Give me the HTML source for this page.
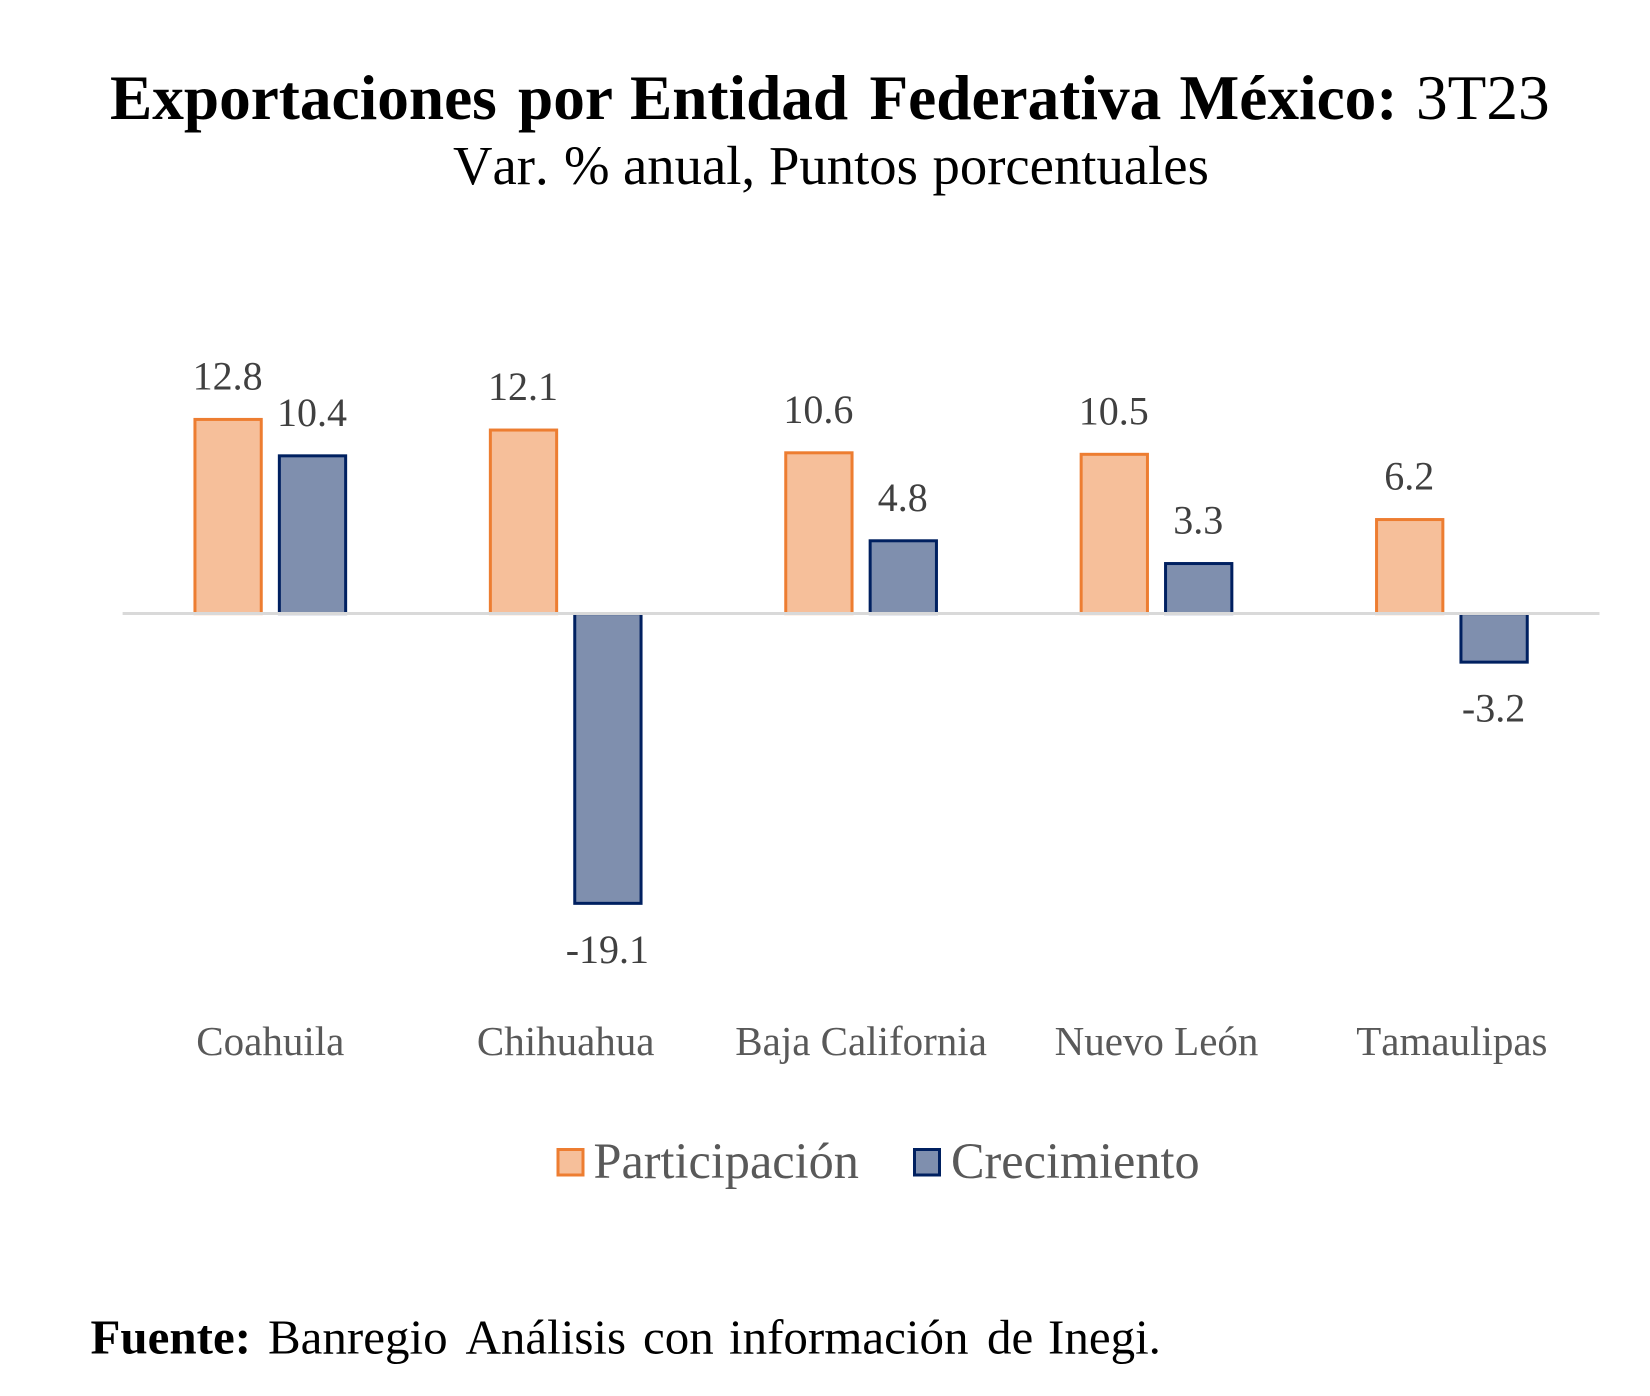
<!DOCTYPE html>
<html lang="es">
<head>
<meta charset="utf-8">
<title>Exportaciones por Entidad Federativa México: 3T23</title>
<style>
  html, body { margin: 0; padding: 0; background: #fff; }
  svg { display: block; font-family: "Liberation Serif", "Times New Roman", serif; font-kerning: none; }
</style>
</head>
<body>
<svg id="chart" xmlns="http://www.w3.org/2000/svg" width="1650" height="1396" viewBox="0 0 1650 1396">
  <rect x="0" y="0" width="1650" height="1396" fill="#ffffff"/>
  <text y="119" font-size="63.3" fill="#000000"><tspan font-weight="700" x="110">Exportaciones</tspan> <tspan font-weight="700" x="518">por</tspan> <tspan font-weight="700" x="630">Entidad</tspan> <tspan font-weight="700" x="869.5">Federativa</tspan> <tspan font-weight="700" x="1179.5">México:</tspan> <tspan x="1416">3T23</tspan></text>
  <text y="184" font-size="54.7" fill="#000000"><tspan x="453">Var.</tspan> <tspan x="564">%</tspan> <tspan x="623">anual,</tspan> <tspan x="769">Puntos</tspan> <tspan x="932.5">porcentuales</tspan></text>
  <g id="bars"></g>
  <line x1="122.6" x2="1599.5" y1="613.5" y2="613.5" stroke="#D9D9D9" stroke-width="3"/>
  <g id="value-labels"></g>
  <g id="category-labels"></g>
  <g>
    <g>
      <rect x="558" y="1149.5" width="25" height="25.5" fill="#F6BF9A" stroke="#ED7D31" stroke-width="3"/>
      <text x="593.5" y="1178" font-size="50.3" fill="#595959">Participación</text>
    </g>
    <g>
      <rect x="914.5" y="1149.5" width="25" height="25.5" fill="#7F8FAE" stroke="#002060" stroke-width="3"/>
      <text x="951" y="1178" font-size="50.3" fill="#595959">Crecimiento</text>
    </g>
  </g>
  <text y="1353.5" font-size="49" fill="#000000"><tspan font-weight="700" x="90.5">Fuente:</tspan> <tspan x="268">Banregio</tspan> <tspan x="465.5">Análisis</tspan> <tspan x="643">con</tspan> <tspan x="729">información</tspan> <tspan x="987">de</tspan> <tspan x="1048">Inegi.</tspan></text>
</svg>
<script>
const categories = ["Coahuila", "Chihuahua", "Baja California", "Nuevo León", "Tamaulipas"];
const participacion = [12.8, 12.1, 10.6, 10.5, 6.2];
const crecimiento = [10.4, -19.1, 4.8, 3.3, -3.2];
const seriesNames = ["participacion", "crecimiento"];

const SVG_NS = "http://www.w3.org/2000/svg";
const plotLeft = 122.6;
const bandWidth = 295.4;
const zeroY = 613.6;
const unitHeight = 15.17;
const barOffset = 42.2;
const barWidth = 66.3;

function xCenter(i) {
  return plotLeft + bandWidth * (i + 0.5);
}
function yScale(v) {
  return zeroY - v * unitHeight;
}

const barsGroup = document.getElementById("bars");
const valueGroup = document.getElementById("value-labels");
const categoryGroup = document.getElementById("category-labels");

function drawSeries(values, name, sign, fill, stroke) {
  values.forEach(function (v, i) {
    const cx = xCenter(i) + sign * barOffset;
    const top = Math.min(yScale(v), zeroY);
    const height = Math.abs(yScale(v) - zeroY);

    const rect = document.createElementNS(SVG_NS, "rect");
    rect.setAttribute("x", cx - barWidth / 2);
    rect.setAttribute("y", top);
    rect.setAttribute("width", barWidth);
    rect.setAttribute("height", height);
    rect.setAttribute("fill", fill);
    rect.setAttribute("stroke", stroke);
    rect.setAttribute("stroke-width", "3");
    
    
    barsGroup.appendChild(rect);

    const label = document.createElementNS(SVG_NS, "text");
    label.setAttribute("x", cx - 0.5);
    label.setAttribute("y", v >= 0 ? yScale(v) - 30 : yScale(v) + 59.5);
    label.setAttribute("text-anchor", "middle");
    label.setAttribute("font-size", "40");
    label.setAttribute("fill", "#404040");
    
    
    label.textContent = v.toFixed(1);
    valueGroup.appendChild(label);
  });
}

drawSeries(participacion, seriesNames[0], -1, "#F6BF9A", "#ED7D31");
drawSeries(crecimiento, seriesNames[1], 1, "#7F8FAE", "#002060");

categories.forEach(function (c, i) {
  const t = document.createElementNS(SVG_NS, "text");
  t.setAttribute("x", xCenter(i));
  t.setAttribute("y", 1055);
  t.setAttribute("text-anchor", "middle");
  t.setAttribute("font-size", "41");
  t.setAttribute("fill", "#595959");
  
  
  t.textContent = c;
  categoryGroup.appendChild(t);
});
</script>
</body>
</html>
